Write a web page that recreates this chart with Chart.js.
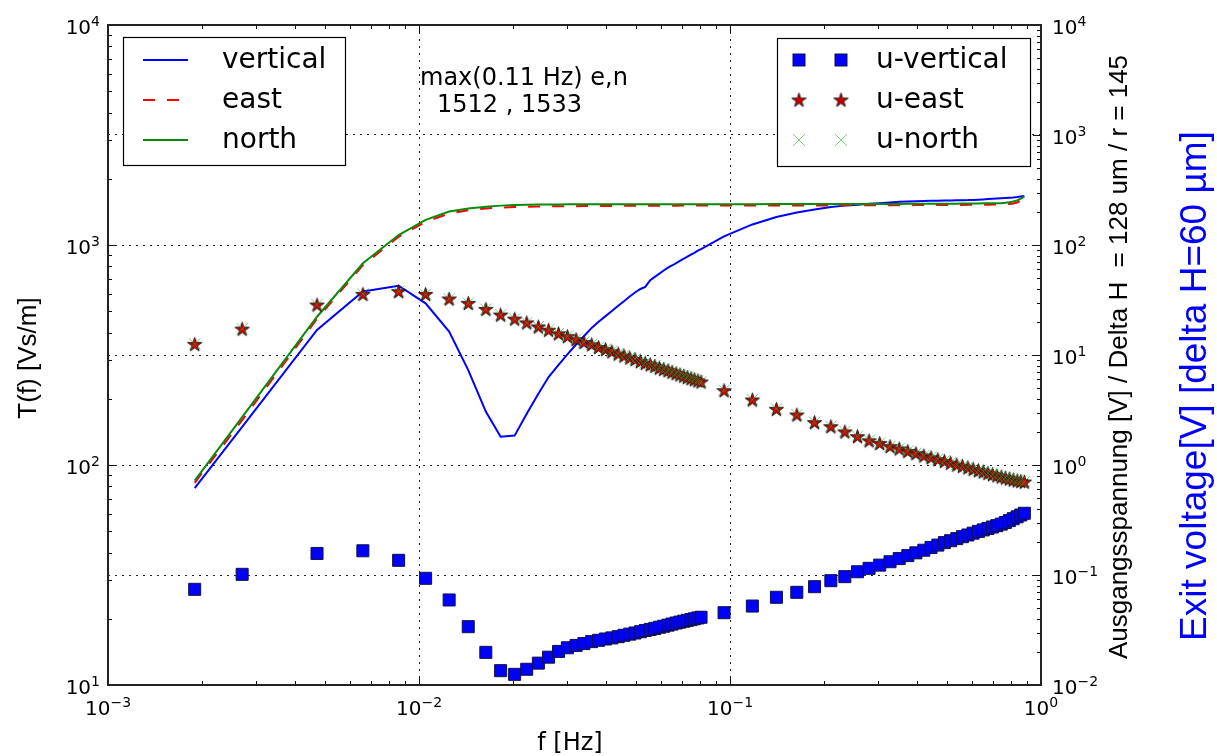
<!DOCTYPE html>
<html>
<head>
<meta charset="utf-8">
<script src="https://cdn.jsdelivr.net/npm/chart.js@4.4.0/dist/chart.umd.min.js"></script>
<style>
  html, body { margin: 0; padding: 0; background: #fff; }
  canvas { display: block; }
</style>
</head>
<body>
<canvas id="chart" width="1217" height="756"></canvas>
<script>
// frequencies [Hz]
const freqHz = [
    0.0019, 0.0027, 0.0047, 0.0066, 0.0086, 0.0105, 0.0125, 0.0144, 0.0164, 0.0183,
    0.0203, 0.0222, 0.0242, 0.0261, 0.0281, 0.0300, 0.0320, 0.0339, 0.0359, 0.0378,
    0.0398, 0.0417, 0.0437, 0.0456, 0.0476, 0.0495, 0.0515, 0.0534, 0.0554, 0.0573,
    0.0593, 0.0612, 0.0632, 0.0651, 0.0671, 0.0690, 0.0710, 0.0729, 0.0749, 0.0768,
    0.0788, 0.0807,
    0.0957, 0.118, 0.141, 0.164, 0.187, 0.211, 0.234, 0.257, 0.280, 0.303,
    0.327, 0.350, 0.373, 0.396, 0.420, 0.443, 0.466, 0.489, 0.512, 0.536,
    0.559, 0.582, 0.605, 0.629, 0.652, 0.675, 0.698, 0.721, 0.745, 0.768,
    0.791, 0.814, 0.838, 0.861, 0.884
];

// transfer function T(f) [Vs/m], left axis
const tVertical = [
    78.5, 149, 411, 615, 653, 543, 404, 270, 175, 134.5,
    136, 171, 211, 251, 285, 318, 353, 385, 420, 448,
    475, 501, 530, 555, 583, 608, 631, 645, 692, 716,
    741, 766, 789, 807, 828, 847, 866, 885, 904, 922,
    942, 957,
    1095, 1240, 1340, 1405, 1450, 1488, 1510, 1525, 1538, 1550,
    1562, 1572, 1577, 1582, 1586, 1589, 1591, 1593, 1595, 1597,
    1599, 1600, 1603, 1607, 1612, 1617, 1622, 1627, 1632, 1636,
    1640, 1645, 1652, 1662, 1672
];
const tEast = [
    83, 160, 462, 810, 1090, 1275, 1390, 1440, 1465, 1480,
    1488, 1493, 1496, 1498, 1500, 1501, 1502, 1503, 1504, 1505,
    1505, 1506, 1506, 1507, 1507, 1508, 1508, 1508, 1509, 1509,
    1509, 1510, 1510, 1510, 1510, 1511, 1511, 1511, 1511, 1512,
    1512, 1512,
    1512, 1512, 1513, 1513, 1513, 1514, 1514, 1515, 1515, 1516,
    1516, 1517, 1517, 1518, 1518, 1519, 1519, 1520, 1520, 1521,
    1521, 1522, 1522, 1523, 1524, 1525, 1526, 1527, 1529, 1532,
    1537, 1545, 1560, 1590, 1635
];
const tNorth = [
    85, 165, 472, 826, 1110, 1300, 1420, 1465, 1492, 1510,
    1520, 1525, 1527, 1528, 1529, 1530, 1530, 1531, 1531, 1531,
    1532, 1532, 1532, 1532, 1532, 1532, 1532, 1532, 1533, 1533,
    1533, 1533, 1533, 1533, 1533, 1533, 1533, 1533, 1533, 1533,
    1533, 1533,
    1533, 1533, 1534, 1534, 1534, 1535, 1535, 1535, 1536, 1536,
    1537, 1537, 1538, 1538, 1539, 1539, 1540, 1540, 1541, 1541,
    1542, 1543, 1544, 1545, 1546, 1547, 1548, 1548, 1550, 1556,
    1565, 1578, 1595, 1625, 1660
];

// output voltage, right axis
const uVertical = [
    0.0741, 0.1014, 0.157, 0.166, 0.136, 0.0933, 0.0593, 0.0339, 0.0198, 0.0135,
    0.0125, 0.0139, 0.0158, 0.0179, 0.0202, 0.0218, 0.0229, 0.0238, 0.0248, 0.0255,
    0.0262, 0.0268, 0.0275, 0.0283, 0.0290, 0.0297, 0.0305, 0.0313, 0.0320, 0.0327,
    0.0335, 0.0342, 0.0350, 0.0358, 0.0366, 0.0373, 0.0380, 0.0387, 0.0393, 0.0400,
    0.0407, 0.0413,
    0.0454, 0.0522, 0.0627, 0.0696, 0.0783, 0.0888, 0.0966, 0.107, 0.115, 0.123,
    0.132, 0.141, 0.150, 0.159, 0.168, 0.178, 0.187, 0.197, 0.205, 0.214,
    0.223, 0.231, 0.240, 0.249, 0.257, 0.265, 0.273, 0.281, 0.290, 0.300,
    0.312, 0.325, 0.338, 0.351, 0.364
];
const uEast = [
    12.5, 17.2, 28.5, 35.6, 37.7, 35.6, 32.3, 29.5, 26.0, 23.1,
    21.2, 19.6, 18.0, 16.8, 15.6, 14.7, 13.8, 13.0, 12.4, 11.7,
    11.2, 10.7, 10.2, 9.8, 9.4, 9.1, 8.7, 8.4, 8.15, 7.9,
    7.6, 7.4, 7.2, 6.98, 6.78, 6.6, 6.43, 6.26, 6.1, 5.96,
    5.82, 5.69,
    4.74, 3.90, 3.21, 2.85, 2.43, 2.23, 2.00, 1.81, 1.66, 1.57,
    1.47, 1.40, 1.33, 1.27, 1.21, 1.165, 1.12, 1.08, 1.04, 1.00,
    0.973, 0.944, 0.914, 0.888, 0.864, 0.840, 0.818, 0.798, 0.778, 0.762,
    0.746, 0.731, 0.718, 0.708, 0.700
];
const uNorth = [
    12.6, 17.3, 28.7, 35.8, 37.9, 35.7, 32.4, 29.6, 26.1, 23.2,
    21.3, 19.7, 18.1, 16.9, 15.7, 14.8, 13.9, 13.1, 12.5, 11.8,
    11.3, 10.8, 10.3, 9.9, 9.5, 9.2, 8.8, 8.5, 8.2, 7.95,
    7.65, 7.45, 7.25, 7.02, 6.82, 6.64, 6.47, 6.3, 6.14, 6.0,
    5.86, 5.73,
    4.78, 3.93, 3.24, 2.87, 2.45, 2.25, 2.02, 1.83, 1.68, 1.58,
    1.48, 1.41, 1.34, 1.28, 1.22, 1.175, 1.13, 1.09, 1.05, 1.01,
    0.980, 0.952, 0.922, 0.895, 0.871, 0.847, 0.825, 0.805, 0.785, 0.769,
    0.752, 0.737, 0.724, 0.713, 0.705
];

// axis decades
const xDecades = [-3, -2, -1, 0];
const leftDecades = [1, 2, 3, 4];
const rightDecades = [-2, -1, 0, 1, 2, 3, 4];

const lineLabels = ['vertical', 'east', 'north'];
const markerLabels = ['u-vertical', 'u-east', 'u-north'];
const noteLines = ['max(0.11 Hz) e,n', '1512 , 1533'];
const xTitle = 'f [Hz]';
const leftTitle = 'T(f) [Vs/m]';
const rightTitle = 'Ausgangsspannung [V] / Delta H  = 128 um / r = 145';
const rightTitle2 = 'Exit voltage[V] [delta H=60 \u00b5m]';

function logTicks(decades) {
    const out = [];
    decades.forEach((e, i) => {
        out.push(Math.pow(10, e));
        if (i < decades.length - 1) {
            for (let k = 2; k <= 9; k++) out.push(k * Math.pow(10, e));
        }
    });
    return out;
}

function isDecade(v) {
    const l = Math.log10(v);
    return Math.abs(l - Math.round(l)) < 1e-6;
}

function pts(values) {
    return values.map((v, i) => ({ x: freqHz[i], y: v }));
}

// filled star marker with dark edge
function makeStar(size, fill, edge) {
    const c = document.createElement('canvas');
    c.width = c.height = size;
    const g = c.getContext('2d');
    const R = size / 2 - 1, r = R * 0.382, cx = size / 2, cy = size / 2 + 0.5;
    g.beginPath();
    for (let i = 0; i < 10; i++) {
        const a = -Math.PI / 2 + i * Math.PI / 5;
        const rad = i % 2 ? r : R;
        g.lineTo(cx + rad * Math.cos(a), cy + rad * Math.sin(a));
    }
    g.closePath();
    g.fillStyle = fill;
    g.fill();
    g.lineWidth = 1;
    g.strokeStyle = edge;
    g.stroke();
    return c;
}

const starImg = makeStar(17, '#d00000', '#1a1a1a');

const BLUE = '#0000ff';
const RED = '#ff0000';
const GREEN = '#0a8a0a';
const XGREEN = 'rgba(40,170,40,0.6)';
const BASE_FONT = '20px "DejaVu Sans"';
const SUP_FONT = '14px "DejaVu Sans"';

// "10" with a raised exponent, like matplotlib mathtext labels
function drawPow(ctx, exp, x, baseY, align) {
    const sup = String(exp).replace('-', '\u2212');
    ctx.font = BASE_FONT;
    const wb = ctx.measureText('10').width;
    ctx.font = SUP_FONT;
    const ws = ctx.measureText(sup).width;
    const w = wb + ws;
    const left = align === 'center' ? x - w / 2 : (align === 'right' ? x - w : x);
    ctx.textAlign = 'left';
    ctx.textBaseline = 'alphabetic';
    ctx.fillStyle = '#000';
    ctx.font = BASE_FONT;
    ctx.fillText('10', left, baseY);
    ctx.font = SUP_FONT;
    ctx.fillText(sup, left + wb, baseY - 8);
}

const decor = {
    id: 'decor',
    afterDraw(chart) {
        const ctx = chart.ctx;
        const a = chart.chartArea;
        const { x, y, y2 } = chart.scales;

        ctx.save();
        // inward tick marks
        ctx.strokeStyle = '#111';
        ctx.lineWidth = 1;
        const seg = (x1, y1, x2, y2_) => {
            ctx.beginPath();
            ctx.moveTo(x1, y1);
            ctx.lineTo(x2, y2_);
            ctx.stroke();
        };
        x.ticks.forEach(t => {
            const px = Math.round(x.getPixelForValue(t.value)) + 0.5;
            const len = isDecade(t.value) ? 8 : 4;
            seg(px, a.bottom, px, a.bottom - len);
            seg(px, a.top, px, a.top + len);
        });
        y.ticks.forEach(t => {
            const py = Math.round(y.getPixelForValue(t.value)) + 0.5;
            const len = isDecade(t.value) ? 8 : 4;
            seg(a.left, py, a.left + len, py);
        });
        y2.ticks.forEach(t => {
            const py = Math.round(y2.getPixelForValue(t.value)) + 0.5;
            const len = isDecade(t.value) ? 8 : 4;
            seg(a.right, py, a.right - len, py);
        });

        // frame
        ctx.lineWidth = 2;
        ctx.strokeStyle = '#222';
        ctx.strokeRect(a.left, a.top, a.right - a.left, a.bottom - a.top);

        // tick labels
        xDecades.forEach(e => drawPow(ctx, e, x.getPixelForValue(Math.pow(10, e)), a.bottom + 30, 'center'));
        leftDecades.forEach(e => drawPow(ctx, e, a.left - 8, y.getPixelForValue(Math.pow(10, e)) + 9, 'right'));
        rightDecades.forEach(e => drawPow(ctx, e, a.right + 11, y2.getPixelForValue(Math.pow(10, e)) + 9, 'left'));

        // left legend (lines)
        ctx.fillStyle = '#fff';
        ctx.fillRect(123, 37, 222, 128);
        ctx.lineWidth = 1.2;
        ctx.strokeStyle = '#000';
        ctx.strokeRect(123.5, 37.5, 222, 128);
        const lineStyles = [
            { color: BLUE, dash: [] },
            { color: RED, dash: [12, 12] },
            { color: GREEN, dash: [] }
        ];
        ctx.font = '28px "DejaVu Sans"';
        ctx.textBaseline = 'alphabetic';
        ctx.textAlign = 'left';
        lineLabels.forEach((lab, i) => {
            const cy = 60 + i * 40;
            ctx.save();
            ctx.strokeStyle = lineStyles[i].color;
            ctx.lineWidth = 2;
            ctx.setLineDash(lineStyles[i].dash);
            seg(143, cy, 188, cy);
            ctx.restore();
            ctx.fillStyle = '#000';
            ctx.font = '28px "DejaVu Sans"';
            ctx.fillText(lab, 222, cy + 8);
        });

        // right legend (markers)
        ctx.fillStyle = '#fff';
        ctx.fillRect(777, 38, 253, 128);
        ctx.lineWidth = 1.2;
        ctx.strokeStyle = '#000';
        ctx.strokeRect(777.5, 38.5, 253, 128);
        markerLabels.forEach((lab, i) => {
            const cy = 60 + i * 40;
            [799, 841].forEach(mx => {
                if (i === 0) {
                    ctx.fillStyle = BLUE;
                    ctx.fillRect(mx - 6, cy - 6, 12, 12);
                    ctx.lineWidth = 1;
                    ctx.strokeStyle = '#10104a';
                    ctx.strokeRect(mx - 6, cy - 6, 12, 12);
                } else if (i === 1) {
                    ctx.drawImage(starImg, mx - starImg.width / 2, cy - starImg.height / 2);
                } else {
                    ctx.strokeStyle = XGREEN;
                    ctx.lineWidth = 1;
                    seg(mx - 6, cy - 6, mx + 6, cy + 6);
                    seg(mx - 6, cy + 6, mx + 6, cy - 6);
                }
            });
            ctx.fillStyle = '#000';
            ctx.font = '28px "DejaVu Sans"';
            ctx.fillText(lab, 876, cy + 8);
        });

        // annotation
        ctx.font = '24px "DejaVu Sans"';
        ctx.fillStyle = '#000';
        ctx.fillText(noteLines[0], 420, 85);
        ctx.fillText(noteLines[1], 437, 112);

        // axis titles
        ctx.font = '24px "DejaVu Sans"';
        ctx.textAlign = 'center';
        ctx.fillText(xTitle, 570, 750);

        const vText = (txt, cx, cy, font, color) => {
            ctx.save();
            ctx.translate(cx, cy);
            ctx.rotate(-Math.PI / 2);
            ctx.font = font;
            ctx.fillStyle = color;
            ctx.textAlign = 'center';
            ctx.textBaseline = 'middle';
            ctx.fillText(txt, 0, 0);
            ctx.restore();
        };
        vText(leftTitle, 29, 358, '26px "Liberation Sans"', '#000');
        vText(rightTitle, 1120, 357, '26px "Liberation Sans"', '#000');
        vText(rightTitle2, 1196, 386, '37px "Liberation Sans"', BLUE);

        ctx.restore();
    }
};

const chart = new Chart(document.getElementById('chart'), {
    type: 'scatter',
    data: {
        datasets: [
            {
                label: 'u-north', data: pts(uNorth), yAxisID: 'y2', order: 0,
                pointStyle: 'crossRot', pointRadius: 8, borderColor: XGREEN,
                backgroundColor: 'rgba(0,0,0,0)', borderWidth: 1
            },
            {
                label: 'u-east', data: pts(uEast), yAxisID: 'y2', order: 1,
                pointStyle: starImg, pointRadius: 7
            },
            {
                label: 'u-vertical', data: pts(uVertical), yAxisID: 'y2', order: 2,
                pointStyle: 'rect', pointRadius: 8.5, backgroundColor: BLUE,
                borderColor: '#10104a', borderWidth: 1
            },
            {
                label: 'north', data: pts(tNorth), yAxisID: 'y', order: 3,
                showLine: true, pointRadius: 0, borderColor: GREEN, borderWidth: 2
            },
            {
                label: 'east', data: pts(tEast), yAxisID: 'y', order: 4,
                showLine: true, pointRadius: 0, borderColor: RED, borderWidth: 2,
                borderDash: [12, 12]
            },
            {
                label: 'vertical', data: pts(tVertical), yAxisID: 'y', order: 5,
                showLine: true, pointRadius: 0, borderColor: BLUE, borderWidth: 2
            }
        ]
    },
    options: {
        responsive: false,
        animation: false,
        events: [],
        devicePixelRatio: 1,
        layout: { padding: { top: 25, left: 0, right: 0, bottom: 0 } },
        plugins: {
            legend: { display: false },
            tooltip: { enabled: false }
        },
        scales: {
            x: {
                type: 'logarithmic',
                position: 'bottom',
                min: 1e-3,
                max: 1,
                afterBuildTicks: s => { s.ticks = logTicks(xDecades).map(v => ({ value: v })); },
                afterFit: s => { s.height = 71; },
                ticks: { display: false, autoSkip: false, maxRotation: 0 },
                grid: {
                    drawTicks: false,
                    lineWidth: 1,
                    color: c => (c.tick && isDecade(c.tick.value) && c.tick.value > 1.5e-3 && c.tick.value < 0.5)
                        ? '#222' : 'rgba(0,0,0,0)'
                },
                border: { display: false, dash: [2, 5] }
            },
            y: {
                type: 'logarithmic',
                position: 'left',
                min: 10,
                max: 1e4,
                afterBuildTicks: s => { s.ticks = logTicks(leftDecades).map(v => ({ value: v })); },
                afterFit: s => { s.width = 108; },
                ticks: { display: false, autoSkip: false },
                grid: { display: false, drawTicks: false },
                border: { display: false }
            },
            y2: {
                type: 'logarithmic',
                position: 'right',
                min: 1e-2,
                max: 1e4,
                afterBuildTicks: s => { s.ticks = logTicks(rightDecades).map(v => ({ value: v })); },
                afterFit: s => { s.width = 176; },
                ticks: { display: false, autoSkip: false },
                grid: {
                    drawTicks: false,
                    lineWidth: 1,
                    color: c => (c.tick && isDecade(c.tick.value) && c.tick.value > 0.015 && c.tick.value < 5000)
                        ? '#222' : 'rgba(0,0,0,0)'
                },
                border: { display: false, dash: [2, 5] }
            }
        }
    },
    plugins: [decor]
});
</script>
</body>
</html>
